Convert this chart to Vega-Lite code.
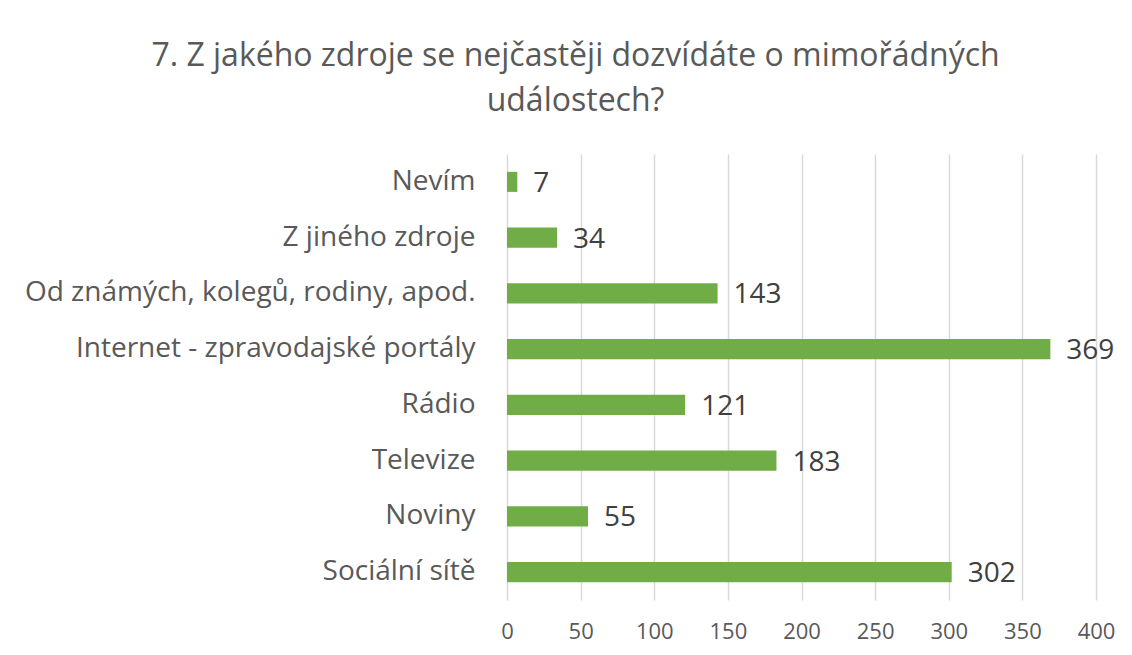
{
  "$schema": "https://vega.github.io/schema/vega-lite/v6.json",
  "width": 589,
  "height": 446,
  "autosize": "none",
  "padding": {"left": 507, "top": 154, "right": 36, "bottom": 55},
  "background": "white",
  "title": {
    "text": ["7. Z jakého zdroje se nejčastěji dozvídáte o mimořádných", "událostech?"],
    "anchor": "middle",
    "dx": -226,
    "fontSize": 32,
    "font": "Open Sans",
    "fontWeight": "normal",
    "color": "#595959",
    "lineHeight": 45,
    "offset": 36
  },
  "data": {
    "values": [
      {"zdroj": "Nevím", "pocet": 7},
      {"zdroj": "Z jiného zdroje", "pocet": 34},
      {"zdroj": "Od známých, kolegů, rodiny, apod.", "pocet": 143},
      {"zdroj": "Internet - zpravodajské portály", "pocet": 369},
      {"zdroj": "Rádio", "pocet": 121},
      {"zdroj": "Televize", "pocet": 183},
      {"zdroj": "Noviny", "pocet": 55},
      {"zdroj": "Sociální sítě", "pocet": 302}
    ]
  },
  "encoding": {
    "y": {
      "field": "zdroj",
      "type": "nominal",
      "sort": null,
      "scale": {"paddingInner": 0.64, "paddingOuter": 0.32},
      "axis": {
        "title": null,
        "ticks": false,
        "domain": false,
        "labelFontSize": 28,
        "labelFont": "Open Sans",
        "labelColor": "#595959",
        "labelPadding": 32,
        "labelLimit": 600
      }
    },
    "x": {
      "field": "pocet",
      "type": "quantitative",
      "scale": {"domain": [0, 400], "nice": false},
      "axis": {
        "title": null,
        "values": [0, 50, 100, 150, 200, 250, 300, 350, 400],
        "ticks": false,
        "domain": false,
        "grid": true,
        "gridColor": "#D9D9D9",
        "gridWidth": 1.5,
        "labelFlush": false,
        "labelFontSize": 22,
        "labelFont": "Open Sans",
        "labelColor": "#595959",
        "labelPadding": 21
      }
    }
  },
  "layer": [
    {"mark": {"type": "bar", "color": "#70AD47"}},
    {
      "mark": {"type": "text", "align": "left", "dx": 16, "fontSize": 28, "font": "Open Sans", "color": "#404040", "baseline": "middle", "dy": 2},
      "encoding": {"text": {"field": "pocet", "type": "quantitative"}}
    }
  ],
  "config": {"view": {"stroke": null}}
}
